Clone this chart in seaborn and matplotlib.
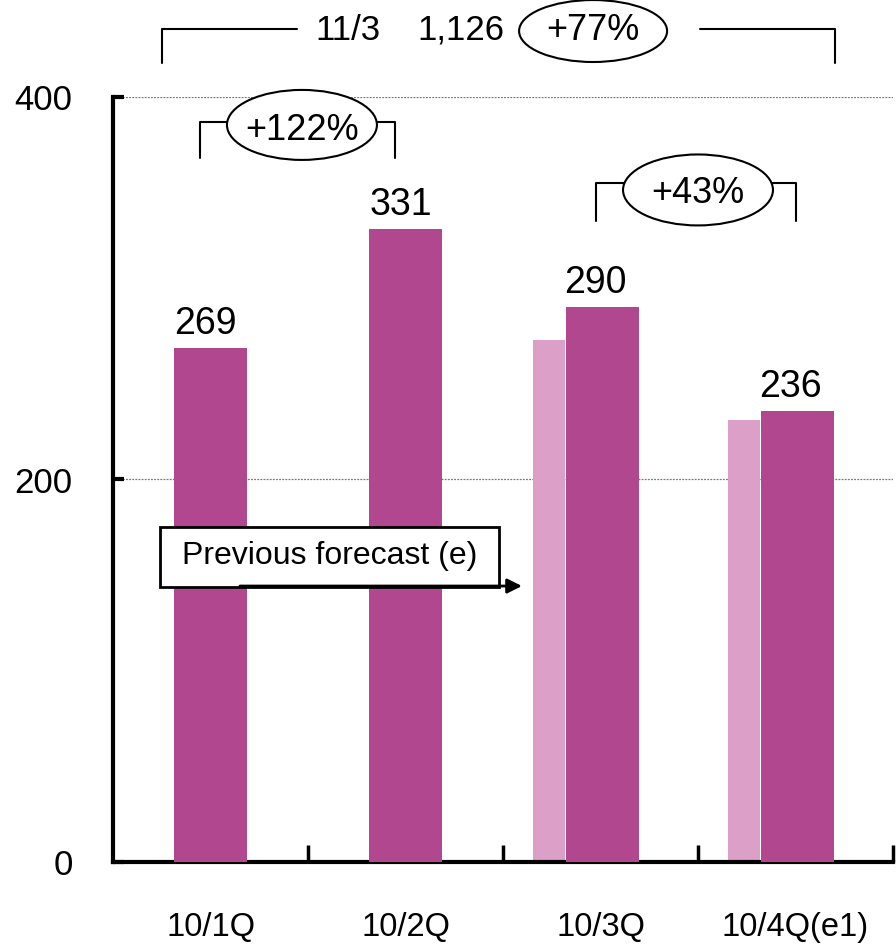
import matplotlib
matplotlib.use("Agg")
import matplotlib.pyplot as plt
from matplotlib.patches import Ellipse, Rectangle
import seaborn as sns

# Quarterly results and the earlier forecast
quarters = ["10/1Q", "10/2Q", "10/3Q", "10/4Q(e1)"]
results = [269, 331, 290, 236]
forecast_quarters = ["10/3Q", "10/4Q(e1)"]
forecast_values = [273, 231]
y_ticks = [0, 200, 400]

DARK = "#B0478F"
LIGHT = "#DC9FC8"

sns.set_theme(style="white")
plt.rcParams["font.family"] = ["Liberation Sans", "DejaVu Sans"]

fig = plt.figure(figsize=(8.96, 9.46), dpi=100)
ax = fig.add_axes([113 / 896, 84 / 946, 780 / 896, 765 / 946])

dark_w = 0.375
light_w = 0.165

# Previous forecast bars, sitting just left of the actual bars
sns.barplot(x=forecast_quarters, y=forecast_values, order=quarters, color=LIGHT,
            width=light_w, saturation=1, errorbar=None, linewidth=0, ax=ax, zorder=2)
for p in ax.patches:
    p.set_x(p.get_x() - (dark_w + light_w) / 2 + 0.004)

# Actual results
sns.barplot(x=quarters, y=results, order=quarters, color=DARK,
            width=dark_w, saturation=1, errorbar=None, linewidth=0, ax=ax, zorder=3)
for p in ax.patches[len(forecast_values):]:
    if p.get_x() > 1.0:
        p.set_x(p.get_x() + 0.01)

ax.set_xlim(-0.5, 3.5)
ax.set_ylim(0, 400)
ax.set_xlabel("")
ax.set_ylabel("")

ax.set_yticks(y_ticks)
ax.tick_params(axis="y", direction="in", length=8, width=3, pad=29,
               labelsize=25, left=True, colors="black")
ax.set_xticks(range(len(quarters)))
ax.set_xticklabels(quarters)
ax.tick_params(axis="x", which="major", length=0, pad=36, labelsize=23.5,
               labelcolor="black")
ax.set_xticks([0.5, 1.5, 2.5, 3.5], minor=True)
ax.tick_params(axis="x", which="minor", direction="in", length=12, width=2.5,
               bottom=True, color="black")

for side in ("top", "right"):
    ax.spines[side].set_visible(False)
for side in ("left", "bottom"):
    ax.spines[side].set_color("black")
    ax.spines[side].set_linewidth(3)

ax.yaxis.grid(True, linestyle=(0, (1.5, 1)), color="#777777", linewidth=0.9)
ax.xaxis.grid(False)
ax.set_axisbelow(True)

# Value labels above the actual bars
for i, v in enumerate(results):
    ax.text(i - 0.025, v + 7.3, f"{v}", ha="center", va="baseline", fontsize=27,
            color="black", zorder=4)

line_kw = dict(color="black", lw=1.5, clip_on=False, zorder=5)


def bubble(cx, cy, w, h, label, size=26, ty=None):
    ax.add_patch(Ellipse((cx, cy), w, h, facecolor="white", edgecolor="black",
                         lw=1.5, clip_on=False, zorder=6))
    ax.text(cx, cy if ty is None else ty, label, ha="center", va="center",
            fontsize=size, color="black", zorder=7)


# Full-year bracket above the plot
ax.plot([-0.249, -0.249, 0.444], [417.8, 435.6, 435.6], **line_kw)
ax.plot([2.510, 3.203, 3.203], [435.6, 435.6, 417.8], **line_kw)
ax.text(0.536, 435.0, "11/3", ha="left", va="center", fontsize=25, color="black")
ax.text(1.06, 435.0, "1,126", ha="left", va="center", fontsize=25, color="black")
bubble(1.962, 434.5, 0.759, 32.4, "+77%", ty=435.0)

# 1Q -> 2Q bracket
ax.plot([-0.054, -0.054, 0.946, 0.946], [368.1, 386.9, 386.9, 368.1], **line_kw)
bubble(0.469, 385.4, 0.769, 36.6, "+122%", ty=382.7)

# 3Q -> 4Q bracket
ax.plot([1.977, 1.977, 3.003, 3.003], [335.2, 355.0, 355.0, 335.2], **line_kw)
bubble(2.5, 351.4, 0.769, 37.1, "+43%", ty=349.8)

# Legend box for the earlier forecast
ax.add_patch(Rectangle((-0.259, 143.8), 1.738, 31.4, facecolor="white",
                       edgecolor="black", lw=2, clip_on=False, zorder=5))
ax.text(0.613, 160.0, "Previous forecast (e)", ha="center", va="center",
        fontsize=23, color="black", zorder=6)
ax.annotate("", xy=(1.597, 144.3), xytext=(0.151, 144.3),
            arrowprops=dict(arrowstyle="-|>", lw=2, color="black",
                            mutation_scale=22, shrinkA=0, shrinkB=0),
            zorder=6, annotation_clip=False)

fig.savefig("out.png", dpi=100, facecolor="white")
